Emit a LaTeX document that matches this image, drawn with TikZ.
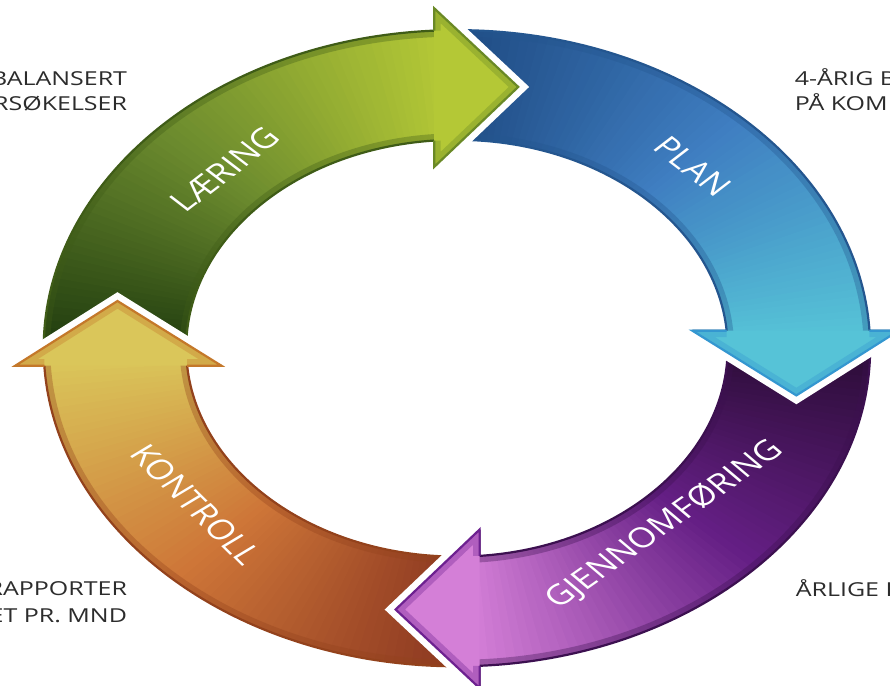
\documentclass[tikz,border=0pt]{standalone}
\usepackage{fontspec}
\newfontfamily\labfont{Open Sans}
\usetikzlibrary{calc}
\definecolor{gA}{HTML}{1E3A0E}
\definecolor{gB}{HTML}{6B8A2E}
\definecolor{gC}{HTML}{B4C836}
\definecolor{gO}{HTML}{3F5C17}
\definecolor{gH}{HTML}{6A8926}
\definecolor{bA}{HTML}{1E4A82}
\definecolor{bB}{HTML}{3F7EC1}
\definecolor{bC}{HTML}{56C3D7}
\definecolor{bO}{HTML}{24568F}
\definecolor{bH}{HTML}{3497D0}
\definecolor{pA}{HTML}{2A0C35}
\definecolor{pB}{HTML}{651F85}
\definecolor{pC}{HTML}{D47FD7}
\definecolor{pO}{HTML}{3C1050}
\definecolor{pH}{HTML}{6D2190}
\definecolor{oA}{HTML}{8A3620}
\definecolor{oB}{HTML}{CE7638}
\definecolor{oC}{HTML}{DAC65A}
\definecolor{oO}{HTML}{93421C}
\definecolor{oH}{HTML}{C4782A}
\definecolor{sidetext}{HTML}{2C2C2C}
\newcommand\arrowshape{(181.5:728) arc[start angle=181.5,end angle=93.15,radius=728] -- (-40,778) -- (108,598) -- (-40,415) -- (94.81:477) arc[start angle=94.81,end angle=181.5,radius=477] -- cycle}
\newcommand\passone[6]{%
 \begin{scope}[rotate=#1]
  \begin{scope}
   \clip \arrowshape;
   \fill[#4] (-900,-900) rectangle (900,900);
   \foreach \i in {0,...,34}{
     \pgfmathsetmacro\aa{181.5-1.3*\i}
     \pgfmathsetmacro\bb{\aa-1.9}
     \pgfmathtruncatemacro\pp{round(100*\i/34)}
     \fill[#3!\pp!#2] (\aa:380) -- (\aa:830) -- (\bb:830) -- (\bb:380) -- cycle;
   }
   \foreach \i in {0,...,34}{
     \pgfmathsetmacro\aa{137.3-1.3*\i}
     \pgfmathsetmacro\bb{\aa-1.9}
     \pgfmathtruncatemacro\pp{round(100*\i/34)}
     \fill[#4!\pp!#3] (\aa:380) -- (\aa:830) -- (\bb:830) -- (\bb:380) -- cycle;
   }
   \draw[#5, line width=13pt, opacity=.35] \arrowshape;
  \end{scope}
  \draw[#5, line width=2.2pt] (-40,778) -- (93.15:728) arc[start angle=93.15,end angle=181.5,radius=728];
  \draw[#5, line width=2.2pt] (-40,415) -- (94.81:477) arc[start angle=94.81,end angle=181.5,radius=477];
 \end{scope}}
\newcommand\passtwo[3]{%
 \begin{scope}[rotate=#1]
  \draw[white, line width=15pt, line join=miter] ($(-40,778)!0.1!(108,598)$) -- (108,598) -- ($(-40,415)!0.1!(108,598)$);
  \fill[#2] (-40,778) -- (108,598) -- (-40,415) -- cycle;
  \begin{scope}
   \clip (-40,778) -- (108,598) -- (-40,415) -- cycle;
   \draw[#3, line width=13pt, opacity=.35, line join=miter] (93.15:728) -- (-40,778) -- (108,598) -- (-40,415) -- (94.81:477);
  \end{scope}
  \draw[#3, line width=2.2pt, line join=miter] (93.15:728) -- (-40,778) -- (108,598) -- (-40,415) -- (94.81:477);
 \end{scope}}
\tikzset{
 lab/.style={font=\labfont\fontsize{64}{76}\selectfont, text=white, transform shape, inner sep=0pt},
 side/.style={font=\labfont\fontsize{44}{52}\selectfont, text=sidetext, transform shape, inner sep=0pt}
}
\begin{document}
\begin{tikzpicture}[x=1pt,y=1pt,xscale=0.5676,yscale=0.4369]
\fill[white] (-805,-771) rectangle (763,797);
\useasboundingbox (-805,-771) rectangle (763,797);
% arrows, first pass (bodies)
\passone{0}{gA}{gB}{gC}{gO}{gH}
\passone{-90}{bA}{bB}{bC}{bO}{bH}
\passone{-180}{pA}{pB}{pC}{pO}{pH}
\passone{90}{oA}{oB}{oC}{oO}{oH}
% second pass (heads over the next tails)
\passtwo{0}{gC}{gH}
\passtwo{-90}{bC}{bH}
\passtwo{-180}{pC}{pH}
\passtwo{90}{oC}{oH}
% labels
\node[lab, rotate=45] (laering) at (135:578) {LÆRING};
\node[lab, rotate=-45] (plan) at (45:588) {PLAN};
\node[lab, rotate=42.2] (gjennom) at (-47.8:546) {GJENNOMFØRING};
\node[lab, rotate=-52.1] (kontroll) at (217.9:583) {KONTROLL};
% side texts
\node[side, anchor=base east] (tl1) at (-581,602) {BALANSERT};
\node[side, anchor=base east] (tl2) at (-581,543) {RSØKELSER};
\node[side, anchor=base west] (tr1) at (595,602) {4-ÅRIG B};
\node[side, anchor=base west] (tr2) at (595,543) {PÅ KOM};
\node[side, anchor=base east] (bl1) at (-581,-565) {RAPPORTER};
\node[side, anchor=base east] (bl2) at (-581,-628) {ET PR. MND};
\node[side, anchor=base west] (br1) at (597,-569) {ÅRLIGE B};
\end{tikzpicture}
\end{document}
